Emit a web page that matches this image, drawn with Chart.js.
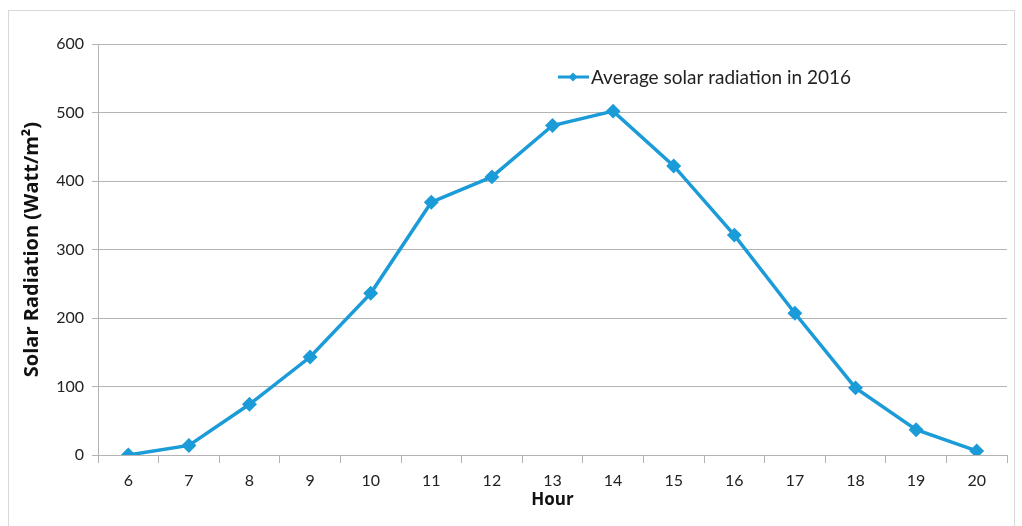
<!DOCTYPE html>
<html>
<head>
<meta charset="utf-8">
<script src="https://cdn.jsdelivr.net/npm/chart.js@4/dist/chart.umd.min.js"></script>
<style>
  html, body { margin: 0; padding: 0; background: #fff; }
  #wrap { width: 1022px; height: 526px; position: relative; }
</style>
</head>
<body>
<div id="wrap"><canvas id="c" width="1022" height="526"></canvas></div>
<script>
// Hour of day
const hours = ['6', '7', '8', '9', '10', '11', '12', '13', '14', '15', '16', '17', '18', '19', '20'];
// Average solar radiation (W/m²) per hour
const radiation = [0, 14, 74, 143, 236, 369, 406, 481, 502, 422, 321, 207, 98, 37, 6];
const seriesLabel = 'Average solar radiation in 2016';
const yTicks = [0, 100, 200, 300, 400, 500, 600];

const FONT = 'Lato, "Open Sans", "Liberation Sans", sans-serif';
const TITLE_FONT = '"Open Sans", "DejaVu Sans", sans-serif';
const BLUE = '#1B9BD7';
const GRID = '#B3B3B3';

// Outer frame around the whole chart
const framePlugin = {
  id: 'frame',
  beforeDraw(chart) {
    const ctx = chart.ctx;
    ctx.save();
    ctx.fillStyle = '#fff';
    ctx.fillRect(0, 0, chart.width, chart.height);
    ctx.strokeStyle = '#D9D9D9';
    ctx.lineWidth = 1;
    ctx.strokeRect(8.5, 10.5, 1006, 530);
    ctx.restore();
  }
};

// Legend entry drawn inside the plot area
const insideLegend = {
  id: 'insideLegend',
  afterDraw(chart) {
    const ctx = chart.ctx;
    const ds = chart.data.datasets[0];
    const x0 = 558, y0 = 77;
    ctx.save();
    ctx.strokeStyle = ds.borderColor;
    ctx.lineWidth = 3;
    ctx.beginPath();
    ctx.moveTo(x0, y0);
    ctx.lineTo(x0 + 31, y0);
    ctx.stroke();
    ctx.fillStyle = ds.borderColor;
    const cx = x0 + 15, r = 4.5;
    ctx.beginPath();
    ctx.moveTo(cx, y0 - r);
    ctx.lineTo(cx + r, y0);
    ctx.lineTo(cx, y0 + r);
    ctx.lineTo(cx - r, y0);
    ctx.closePath();
    ctx.fill();
    ctx.fillStyle = '#222';
    ctx.font = '19px ' + FONT;
    ctx.textBaseline = 'middle';
    ctx.textAlign = 'left';
    ctx.fillText(ds.label, x0 + 33, y0 + 1);
    ctx.restore();
  }
};

new Chart(document.getElementById('c'), {
  type: 'line',
  data: {
    labels: hours,
    datasets: [{
      label: seriesLabel,
      data: radiation,
      borderColor: BLUE,
      backgroundColor: BLUE,
      borderWidth: 3.5,
      pointStyle: 'rectRot',
      pointRadius: 5,
      pointHoverRadius: 5,
      tension: 0,
      fill: false
    }]
  },
  options: {
    responsive: false,
    animation: false,
    devicePixelRatio: 1,
    layout: { padding: { top: 44, right: 15, left: 0, bottom: 0 } },
    plugins: {
      legend: { display: false },
      tooltip: { enabled: false }
    },
    scales: {
      x: {
        offset: true,
        grid: {
          offset: true,
          drawOnChartArea: false,
          drawTicks: true,
          tickLength: 8,
          color: GRID
        },
        border: { display: true, color: GRID, width: 1 },
        ticks: {
          color: '#222',
          font: { family: FONT, size: 16 },
          padding: 8,
          maxRotation: 0
        },
        title: {
          display: true,
          text: 'Hour',
          color: '#111',
          font: { family: TITLE_FONT, size: 17, weight: 'bold' },
          padding: { top: 0, bottom: 16 }
        },
        afterFit(scale) { scale.height = 71; }
      },
      y: {
        min: 0,
        max: 600,
        afterBuildTicks(scale) { scale.ticks = yTicks.map(v => ({ value: v })); },
        grid: {
          color: GRID,
          drawTicks: true,
          tickLength: 6
        },
        border: { display: true, color: GRID, width: 1 },
        ticks: {
          color: '#222',
          font: { family: FONT, size: 16 },
          padding: 8
        },
        title: {
          display: true,
          text: 'Solar Radiation (Watt/m²)',
          color: '#111',
          font: { family: TITLE_FONT, size: 20, weight: 'bold' },
          padding: { top: 20, bottom: 0 }
        },
        afterFit(scale) { scale.width = 98; }
      }
    }
  },
  plugins: [framePlugin, insideLegend]
});
</script>
</body>
</html>
